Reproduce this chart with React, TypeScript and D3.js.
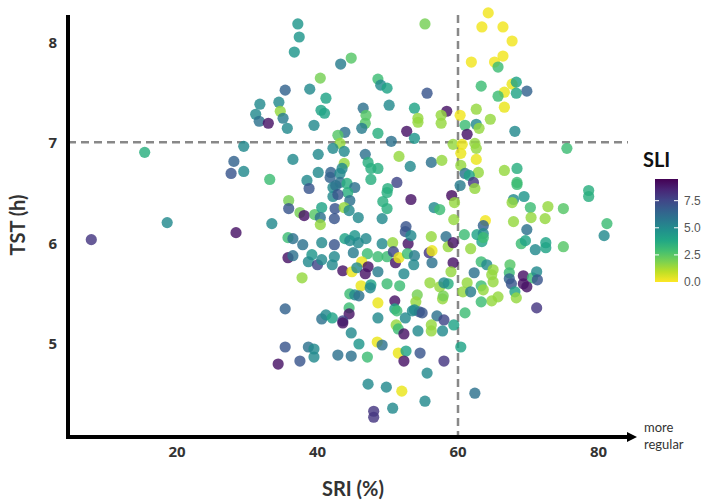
import React from 'react';
import * as d3 from 'd3';

// SRI (%), TST (h) and SLI per participant
const sri = [
  7.8, 15.4, 18.6, 28.4, 31.8, 31.2, 31.7, 33.0, 29.5, 28.1, 27.7, 29.5, 33.2,
  37.2, 37.4, 36.7, 44.8, 43.3, 40.4, 35.4, 38.9, 41.2, 34.5, 34.7, 40.5, 41.0, 46.5, 48.6, 49.0, 49.9, 50.2, 46.9, 53.8, 55.3, 55.6, 58.4, 57.6, 54.3, 35.1,
  35.7, 39.5, 46.8, 43.9, 46.3, 42.9, 43.2, 42.2, 43.8, 48.6, 50.5, 52.7, 53.8, 54.3, 57.6, 40.1, 36.5, 46.8, 47.2, 47.6, 48.6, 43.8, 43.5, 51.6, 53.2, 56.2, 57.7,
  40.1, 41.9, 41.8, 43.2, 43.2, 44.2, 38.5, 38.8, 42.2, 42.6, 45.3, 47.6, 44.3, 51.3, 50.0, 49.9, 42.2, 42.9, 44.6, 35.9, 49.3, 49.9, 53.3, 59.1, 35.9, 37.5, 38.1,
  39.6, 40.6, 42.5, 43.8, 44.5, 40.4, 42.4, 45.8, 49.2, 40.4, 33.5, 56.6, 57.4, 59.4, 52.6,
  35.8, 36.5, 37.9, 40.6, 42.4, 43.9, 44.6, 45.3, 45.8, 46.9, 49.2, 50.7, 52.9, 52.5, 53.3, 56.2, 58.3, 58.6, 59.3, 35.8, 36.5, 39.2, 38.7, 40.0, 40.6, 42.1, 42.4,
  45.1, 47.1, 48.6, 49.9, 50.8, 51.1, 51.6, 52.8, 53.8, 53.7, 55.9, 56.3, 56.3, 59.3, 37.8, 43.6, 44.9, 46.3, 45.6, 47.2, 46.8, 48.6, 52.3, 59.0, 46.2, 47.6, 47.5,
  49.9, 51.7, 56.0, 57.4, 58.6, 58.0, 44.6, 45.3, 45.9, 54.2, 48.6, 51.0, 54.0, 57.8, 57.9, 44.5, 44.5, 51.0, 51.3, 53.5, 54.5, 53.8, 54.9, 35.4, 40.6, 41.2, 42.1,
  43.6, 43.6, 48.6, 52.5, 57.0, 58.0, 51.2, 51.5, 56.2, 56.2, 44.8, 52.3, 54.3, 57.8,
  35.4, 38.7, 39.5, 39.5, 37.5, 34.4, 42.9, 44.8, 47.1, 45.9, 48.5, 49.2, 51.5, 52.6, 52.3, 54.6, 58.0, 55.6, 47.2, 49.8, 52.0, 55.3, 50.7, 48.0, 48.0,
  64.3, 63.4, 66.4, 67.7, 66.4, 61.9, 65.2, 65.7, 63.3, 67.7, 68.3, 69.8, 68.3, 66.6, 65.7, 66.6, 62.6, 60.3, 64.6,
  61.0, 62.6, 63.0, 61.3, 68.1, 59.3, 60.6, 62.4, 62.6, 60.4, 75.5, 62.6, 60.4, 62.9, 61.0, 61.6, 62.2, 62.4, 60.3, 66.6, 68.4, 68.4, 68.4, 59.5, 67.9, 69.4, 67.7,
  70.3, 72.8, 75.0, 78.6, 78.6, 70.4, 72.4, 67.9, 63.9, 63.6, 81.2, 69.8,
  60.9, 62.7, 63.6, 63.4, 63.6, 61.8, 69.0, 69.6, 71.0, 72.5, 72.5, 75.0, 80.8, 63.3, 64.1, 65.0, 64.8, 67.4, 67.3, 62.3, 69.3, 70.6, 71.2, 71.3, 67.3, 69.3, 69.8,
  65.0, 61.3, 63.3, 63.6, 67.6, 60.7, 61.8, 68.1, 68.3, 64.8, 65.7, 63.3, 61.0, 71.2, 59.4, 60.4, 62.4,
];

const tst = [
  6.03, 6.90, 6.20, 6.10, 7.38, 7.28, 7.21, 7.19, 6.96, 6.81, 6.69, 6.71, 6.63,
  8.18, 8.05, 7.90, 7.84, 7.78, 7.64, 7.52, 7.53, 7.44, 7.40, 7.31, 7.32, 7.29, 7.34, 7.63, 7.57, 7.54, 7.37, 7.27, 7.34, 8.18, 7.49, 7.31, 7.27, 7.24, 7.24,
  7.14, 7.17, 7.19, 7.10, 7.14, 7.07, 6.99, 6.94, 6.91, 7.09, 7.01, 7.11, 7.04, 7.20, 7.19, 6.88, 6.83, 6.88, 6.80, 6.74, 6.74, 6.79, 6.74, 6.86, 6.76, 6.80, 6.82,
  6.70, 6.70, 6.65, 6.69, 6.60, 6.59, 6.62, 6.54, 6.55, 6.57, 6.55, 6.63, 6.50, 6.60, 6.54, 6.50, 6.46, 6.48, 6.42, 6.42, 6.41, 6.34, 6.43, 6.47, 6.34, 6.30, 6.27,
  6.28, 6.35, 6.34, 6.35, 6.32, 6.25, 6.24, 6.25, 6.24, 6.18, 6.19, 6.35, 6.33, 6.23, 6.16,
  6.05, 6.04, 5.98, 6.00, 5.98, 6.04, 6.02, 6.07, 6.00, 6.04, 5.99, 6.00, 5.99, 6.11, 6.07, 6.06, 6.06, 5.96, 6.00, 5.85, 5.87, 5.88, 5.81, 5.78, 5.83, 5.78, 5.86,
  5.90, 5.89, 5.86, 5.86, 5.91, 5.80, 5.85, 5.89, 5.87, 5.78, 5.90, 5.92, 5.80, 5.80, 5.65, 5.72, 5.71, 5.81, 5.75, 5.76, 5.69, 5.71, 5.69, 5.71, 5.57, 5.58, 5.55,
  5.59, 5.57, 5.60, 5.56, 5.59, 5.60, 5.49, 5.48, 5.47, 5.48, 5.40, 5.42, 5.41, 5.44, 5.47, 5.35, 5.29, 5.34, 5.32, 5.32, 5.31, 5.33, 5.30, 5.34, 5.24, 5.28, 5.25,
  5.22, 5.20, 5.25, 5.25, 5.27, 5.23, 5.18, 5.14, 5.18, 5.12, 5.10, 5.09, 5.12, 5.12,
  4.96, 4.96, 4.94, 4.86, 4.82, 4.79, 4.88, 4.87, 4.86, 4.99, 5.01, 4.98, 4.90, 4.92, 4.82, 4.90, 4.82, 4.70, 4.59, 4.56, 4.52, 4.42, 4.35, 4.32, 4.26,
  8.29, 8.15, 8.15, 8.01, 7.86, 7.80, 7.80, 7.75, 7.56, 7.58, 7.60, 7.51, 7.49, 7.50, 7.46, 7.35, 7.33, 7.27, 7.23,
  7.17, 7.18, 7.14, 7.08, 7.11, 6.98, 6.98, 6.99, 6.94, 6.89, 6.94, 6.83, 6.77, 6.70, 6.69, 6.67, 6.60, 6.54, 6.57, 6.72, 6.74, 6.60, 6.58, 6.40, 6.43, 6.46, 6.40,
  6.35, 6.36, 6.34, 6.52, 6.46, 6.25, 6.24, 6.21, 6.22, 6.17, 6.19, 6.13,
  6.08, 6.08, 6.09, 6.01, 6.05, 5.94, 5.99, 6.02, 5.93, 6.00, 5.95, 5.96, 6.07, 5.81, 5.78, 5.73, 5.68, 5.78, 5.70, 5.70, 5.67, 5.65, 5.71, 5.63, 5.64, 5.59, 5.56,
  5.61, 5.60, 5.57, 5.53, 5.59, 5.51, 5.51, 5.51, 5.45, 5.42, 5.46, 5.41, 5.30, 5.35, 5.18, 4.96, 4.50,
];

const sli = [
  8, 3.5, 5, 9, 5, 5, 6, 9, 5, 6.5, 7, 5, 3,
  4.5, 4.5, 4.5, 2.5, 5.5, 2, 6.5, 5, 4, 5, 1.5, 4, 4, 6, 3, 5, 4, 5, 2.5, 4, 2, 7, 9, 1.5, 1.5, 5.5,
  5, 5, 2.5, 6, 5.5, 2.5, 1.5, 5, 5, 3.5, 6, 9, 4.5, 1.5, 1.5, 5, 5, 6, 3.5, 3.5, 3.5, 1.5, 5, 1.5, 5, 6, 1.5,
  5, 6.5, 6.5, 5, 6, 3.5, 5, 7, 5, 6, 6, 3.5, 3.5, 7.5, 3.5, 3.5, 5, 7, 6, 2, 3.5, 3.5, 9, 9.2, 7, 2, 9,
  2.5, 4, 7, 1.5, 5, 6, 7, 5, 5, 1.5, 5, 5, 3, 1.5, 7,
  3, 6, 6, 5, 7, 4, 5, 4.5, 5, 5, 5, 1.5, 9, 7, 5, 1.5, 6, 1.5, 9, 9, 6, 4.5, 5, 7.5, 5, 5, 5,
  5.5, 3, 3, 3, 7.5, 9, 0.3, 3, 5.5, 5, 8, 0.3, 6, 9, 1.5, 9, 0.3, 0.3, 5, 9, 9, 5.5, 5, 1.5, 0.3, 4, 5,
  3, 3, 1.5, 1.5, 3.5, 5, 3, 5, 6, 2, 0.3, 9, 1.5, 1.5, 2, 3, 9, 4, 3, 5, 7, 5, 7, 6.5, 6, 5, 4,
  7.5, 9, 5, 5, 6, 7.5, 1.5, 3, 1.5, 1.5, 5, 9, 5, 5,
  7, 6, 5, 5, 7, 9, 6, 6, 3, 4.5, 0.3, 6, 0.3, 4, 9, 7, 8, 5, 5, 5, 0.3, 5, 5, 8, 8,
  0.2, 0.2, 0.2, 0.2, 0.2, 0.2, 0.2, 3, 3, 0.3, 4, 6.5, 4, 0.3, 3, 0.3, 1.5, 0.2, 1.5,
  3, 5, 1.5, 9, 5, 1.5, 0.3, 1.5, 1.5, 0.3, 3, 0.3, 1.5, 1.5, 6, 4, 8, 1.5, 5.5, 1.5, 3.5, 3, 3, 1.5, 5, 4.5, 1.5,
  3, 1.5, 2.5, 3.5, 3.5, 1.5, 1.5, 1.5, 0.2, 6.5, 3, 6,
  3, 4, 5, 4, 3, 1.5, 3, 4, 5, 4, 4, 2.5, 5, 3, 5, 1.5, 1.5, 2.5, 3, 6, 9, 3, 5, 7, 6.5, 9, 9,
  1.5, 1.5, 3, 1.5, 7, 1.5, 5.5, 4, 1.5, 1.5, 1.5, 3, 3, 8, 4, 4, 6,
];

const xTicks = [20, 40, 60, 80];
const yTicks = [5, 6, 7, 8];
const legendTicks = [0, 2.5, 5, 7.5];

const W = 709;
const H = 504;

const titleFont = 'Lato, "Open Sans", sans-serif';
const tickFont = '"Open Sans", Lato, sans-serif';

export default function App() {
  const x = d3.scaleLinear().domain([0, 80]).range([36.5, 598.5]);
  const y = d3.scaleLinear().domain([5, 8]).range([343, 42]);
  const color = d3.scaleSequential((t: number) => d3.interpolateViridis(1 - t)).domain([0, 9.5]);

  const axisX = 68;
  const axisY = 437;
  const plotTop = 15;
  const arrowEnd = 637;

  // colour bar
  const barX = 655;
  const barW = 23;
  const lg = d3.scaleLinear().domain([0, 9.5]).range([282, 179]);
  const stops = d3.range(0, 1.0001, 0.1);

  const points = sri.map((s, i) => ({ s, t: tst[i], l: sli[i] }));

  return (
    <svg width={W} height={H} style={{ position: 'absolute', left: 0, top: 0, background: '#fff' }}>
      <defs>
        <linearGradient id="sliGrad" x1="0" y1="1" x2="0" y2="0">
          {stops.map(t => (
            <stop key={t} offset={`${t * 100}%`} stopColor={color(t * 9.5)} />
          ))}
        </linearGradient>
      </defs>

      {/* reference lines */}
      <line x1={axisX} x2={628} y1={y(7)} y2={y(7)} stroke="#888" strokeWidth={2.5} strokeDasharray="8,5" />
      <line x1={x(60)} x2={x(60)} y1={plotTop} y2={axisY} stroke="#888" strokeWidth={2.5} strokeDasharray="8,5" />

      {/* points */}
      <g>
        {points.map((p, i) => (
          <circle key={i} cx={x(p.s)} cy={y(p.t)} r={5.6} fill={color(p.l)} fillOpacity={0.82} />
        ))}
      </g>

      {/* axes */}
      <line x1={axisX} x2={axisX} y1={plotTop} y2={axisY + 2} stroke="#000" strokeWidth={4} />
      <line x1={axisX - 2} x2={arrowEnd - 8} y1={axisY} y2={axisY} stroke="#000" strokeWidth={4} />
      <path d={`M${arrowEnd - 10},${axisY - 5} L${arrowEnd},${axisY} L${arrowEnd - 10},${axisY + 5} Z`} fill="#000" />

      {xTicks.map(t => (
        <text key={t} x={x(t)} y={457} textAnchor="middle" fontFamily={tickFont} fontWeight={700} fontSize={15} fill="#333">
          {t}
        </text>
      ))}
      {yTicks.map(t => (
        <text key={t} x={57} y={y(t) + 6} textAnchor="end" fontFamily={tickFont} fontWeight={700} fontSize={15} fill="#333">
          {t}
        </text>
      ))}

      <text x={353} y={496} textAnchor="middle" fontFamily={titleFont} fontWeight={700} fontSize={20} fill="#333">
        SRI (%)
      </text>
      <text transform={`translate(25,${225}) rotate(-90)`} textAnchor="middle" fontFamily={titleFont} fontWeight={700} fontSize={20} fill="#333">
        TST (h)
      </text>

      <text x={644} y={432} fontFamily={titleFont} fontSize={13} fill="#333">more</text>
      <text x={644} y={449} fontFamily={titleFont} fontSize={13} fill="#333">regular</text>

      {/* legend */}
      <text x={643} y={167} fontFamily={titleFont} fontWeight={700} fontSize={20} fill="#111">SLI</text>
      <rect x={barX} y={lg(9.5)} width={barW} height={lg(0) - lg(9.5)} fill="url(#sliGrad)" />
      {legendTicks.map(t => (
        <g key={t}>
          {t > 0 && (
            <>
              <line x1={barX} x2={barX + 4} y1={lg(t)} y2={lg(t)} stroke="#fff" strokeWidth={1} />
              <line x1={barX + barW - 4} x2={barX + barW} y1={lg(t)} y2={lg(t)} stroke="#fff" strokeWidth={1} />
            </>
          )}
          <text x={684} y={lg(t) + 4} fontFamily='"Liberation Sans", Arial, sans-serif' fontSize={12} fill="#555">
            {t.toFixed(1)}
          </text>
        </g>
      ))}
    </svg>
  );
}
